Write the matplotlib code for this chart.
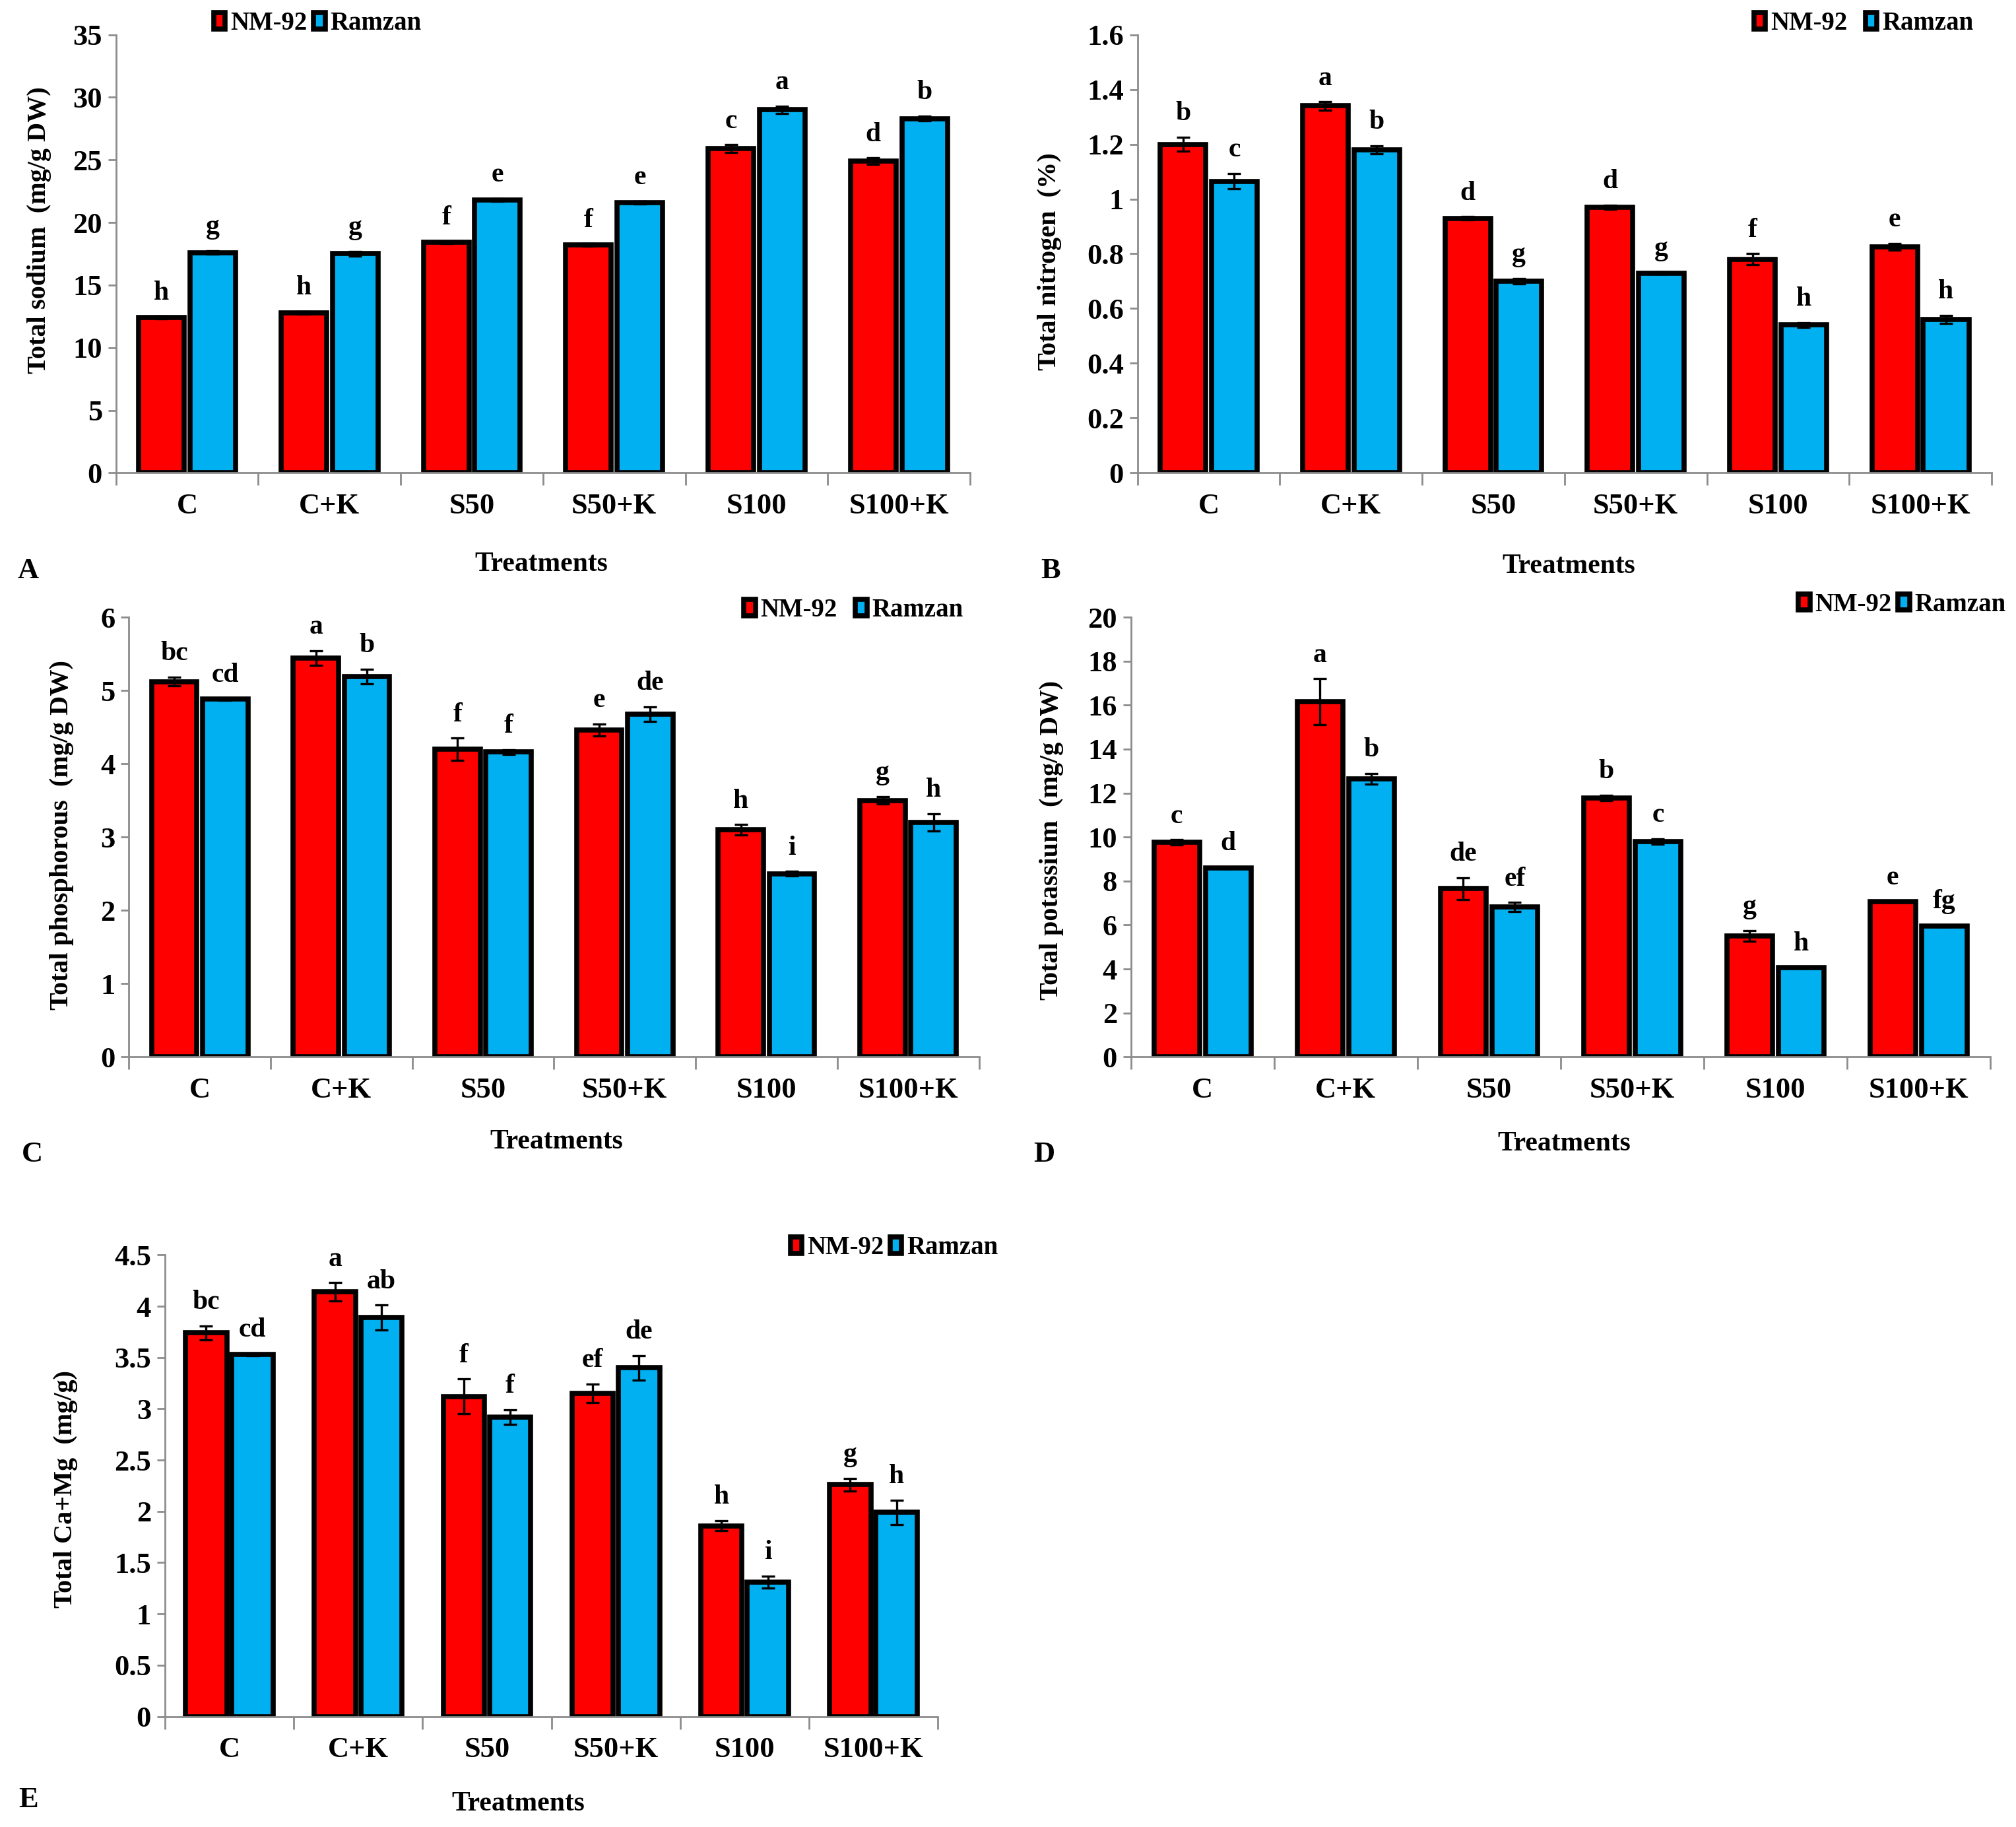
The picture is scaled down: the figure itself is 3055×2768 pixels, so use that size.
import numpy as np
import matplotlib.pyplot as plt
from matplotlib.ticker import FuncFormatter

plt.rcParams["font.family"] = ["Liberation Serif", "DejaVu Serif"]
plt.rcParams["font.weight"] = "bold"

treatments = ["C", "C+K", "S50", "S50+K", "S100", "S100+K"]
cultivars = ["NM-92", "Ramzan"]
RED = "#FF0000"
BLUE = "#00B0F0"

# A: total sodium
na_nm = [12.4, 12.8, 18.4, 18.2, 25.9, 24.9]
na_rz = [17.6, 17.5, 21.8, 21.6, 29.0, 28.3]
na_nm_err = [0.1, 0.1, 0.1, 0.1, 0.3, 0.25]
na_rz_err = [0.15, 0.2, 0.1, 0.1, 0.3, 0.2]
na_nm_let = ["h", "h", "f", "f", "c", "d"]
na_rz_let = ["g", "g", "e", "e", "a", "b"]

# B: total nitrogen
n_nm = [1.20, 1.34, 0.93, 0.97, 0.78, 0.825]
n_rz = [1.065, 1.18, 0.70, 0.73, 0.54, 0.56]
n_nm_err = [0.025, 0.015, 0.005, 0.008, 0.02, 0.012]
n_rz_err = [0.028, 0.015, 0.01, 0.003, 0.008, 0.015]
n_nm_let = ["b", "a", "d", "d", "f", "e"]
n_rz_let = ["c", "b", "g", "g", "h", "h"]

# C: total phosphorous
p_nm = [5.12, 5.44, 4.20, 4.46, 3.10, 3.50]
p_rz = [4.88, 5.19, 4.16, 4.68, 2.50, 3.20]
p_nm_err = [0.06, 0.10, 0.15, 0.08, 0.07, 0.05]
p_rz_err = [0.01, 0.10, 0.03, 0.10, 0.03, 0.12]
p_nm_let = ["bc", "a", "f", "e", "h", "g"]
p_rz_let = ["cd", "b", "f", "de", "i", "h"]

# D: total potassium
k_nm = [9.75, 16.15, 7.65, 11.78, 5.5, 7.05]
k_rz = [8.6, 12.65, 6.82, 9.8, 4.05, 5.95]
k_nm_err = [0.12, 1.05, 0.5, 0.12, 0.25, 0.03]
k_rz_err = [0.03, 0.25, 0.2, 0.12, 0.03, 0.03]
k_nm_let = ["c", "a", "de", "b", "g", "e"]
k_rz_let = ["d", "b", "ef", "c", "h", "fg"]

# E: total Ca+Mg
cm_nm = [3.74, 4.14, 3.12, 3.15, 1.86, 2.26]
cm_rz = [3.53, 3.89, 2.92, 3.40, 1.31, 1.99]
cm_nm_err = [0.07, 0.09, 0.17, 0.09, 0.05, 0.06]
cm_rz_err = [0.01, 0.12, 0.07, 0.12, 0.06, 0.12]
cm_nm_let = ["bc", "a", "f", "ef", "h", "g"]
cm_rz_let = ["cd", "ab", "f", "de", "i", "h"]


def panel(fig, rect, nm, rz, nm_err, rz_err, nm_let, rz_let, ymax, ystep,
          ylabel, ylab_pos, legend_pos, colsp):
    ax = fig.add_axes(rect)
    x = np.arange(len(treatments))
    width = 0.32
    off = 0.18
    bars = []
    for vals, errs, lets, color, sign, name in [
        (nm, nm_err, nm_let, RED, -1, cultivars[0]),
        (rz, rz_err, rz_let, BLUE, 1, cultivars[1]),
    ]:
        b = ax.bar(x + sign * off, vals, width, color=color, edgecolor="black",
                   linewidth=5.5, label=name, zorder=2)
        ax.errorbar(x + sign * off, vals, yerr=errs, fmt="none", ecolor="black",
                    elinewidth=2.4, capsize=7, capthick=2.4, zorder=3)
        for xi, v, e, t in zip(x + sign * off, vals, errs, lets):
            ax.annotate(t, xy=(xi, v + e), xytext=(0, 12), textcoords="offset points",
                        ha="center", va="bottom", fontsize=30, fontweight="bold")
        bars.append(b)

    ax.set_xlim(-0.5, len(treatments) - 0.5)
    ax.set_ylim(0, ymax)
    ax.set_yticks(np.arange(0, ymax + ystep / 2, ystep))
    ax.yaxis.set_major_formatter(FuncFormatter(lambda v, p: f"{round(v, 2):g}"))
    ax.set_xticks(np.arange(-0.5, len(treatments)), minor=False)
    ax.set_xticklabels([])
    ax.set_xticks(x, minor=True)
    ax.set_xticklabels(treatments, minor=True)
    ax.tick_params(axis="x", which="major", length=14, width=2, color="#8c8c8c",
                   direction="out")
    ax.tick_params(axis="x", which="minor", length=0, pad=22, labelsize=32)
    ax.tick_params(axis="y", length=9, width=2, color="#8c8c8c", labelsize=32,
                   direction="out", pad=6)
    for s in ["top", "right"]:
        ax.spines[s].set_visible(False)
    for s in ["left", "bottom"]:
        ax.spines[s].set_color("#8c8c8c")
        ax.spines[s].set_linewidth(2)
    for lab in ax.get_xticklabels(minor=True) + ax.get_yticklabels():
        lab.set_fontweight("bold")

    fig.text(ylab_pos[0], ylab_pos[1], ylabel, rotation=90, ha="center", va="center",
             fontsize=29, fontweight="bold")
    ax.legend(handles=bars, loc="center left", bbox_to_anchor=legend_pos,
              bbox_transform=fig.transFigure, ncol=2, frameon=False, fontsize=28,
              handlelength=0.45, handleheight=0.6, handletextpad=0.2,
              columnspacing=colsp, borderpad=0, borderaxespad=0)
    return ax


fig = plt.figure(figsize=(30.55, 27.68), dpi=100)

panel(fig, [0.0575, 0.7412, 0.4237, 0.2398], na_nm, na_rz, na_nm_err, na_rz_err,
      na_nm_let, na_rz_let, 35, 5, "Total sodium  (mg/g DW)", (0.0195, 0.874),
      (0.106, 0.987), 0.25)
panel(fig, [0.5642, 0.7412, 0.4237, 0.2398], n_nm, n_rz, n_nm_err, n_rz_err,
      n_nm_let, n_rz_let, 1.6, 0.2, "Total nitrogen  (%)", (0.5205, 0.857),
      (0.870, 0.987), 0.7)
panel(fig, [0.0639, 0.4215, 0.4217, 0.2407], p_nm, p_rz, p_nm_err, p_rz_err,
      p_nm_let, p_rz_let, 6, 1, "Total phosphorous  (mg/g DW)", (0.0305, 0.543),
      (0.369, 0.666), 0.7)
panel(fig, [0.5610, 0.4215, 0.4262, 0.2407], k_nm, k_rz, k_nm_err, k_rz_err,
      k_nm_let, k_rz_let, 20, 2, "Total potassium  (mg/g DW)", (0.5215, 0.540),
      (0.892, 0.669), 0.25)
panel(fig, [0.0818, 0.0605, 0.3834, 0.2526], cm_nm, cm_rz, cm_nm_err, cm_rz_err,
      cm_nm_let, cm_rz_let, 4.5, 0.5, "Total Ca+Mg  (mg/g)", (0.0325, 0.185),
      (0.392, 0.317), 0.25)

for txt, tx, ty in [("Treatments", 0.2685, 0.691), ("Treatments", 0.778, 0.690),
                    ("Treatments", 0.276, 0.375), ("Treatments", 0.776, 0.374),
                    ("Treatments", 0.257, 0.0127)]:
    fig.text(tx, ty, txt, ha="center", va="center", fontsize=30, fontweight="bold")

for txt, tx, ty in [("A", 0.014, 0.6875), ("B", 0.521, 0.6875), ("C", 0.016, 0.368),
                    ("D", 0.518, 0.368), ("E", 0.014, 0.0148)]:
    fig.text(tx, ty, txt, ha="center", va="center", fontsize=32, fontweight="bold")

fig.savefig("out.png", dpi=100, facecolor="white")
